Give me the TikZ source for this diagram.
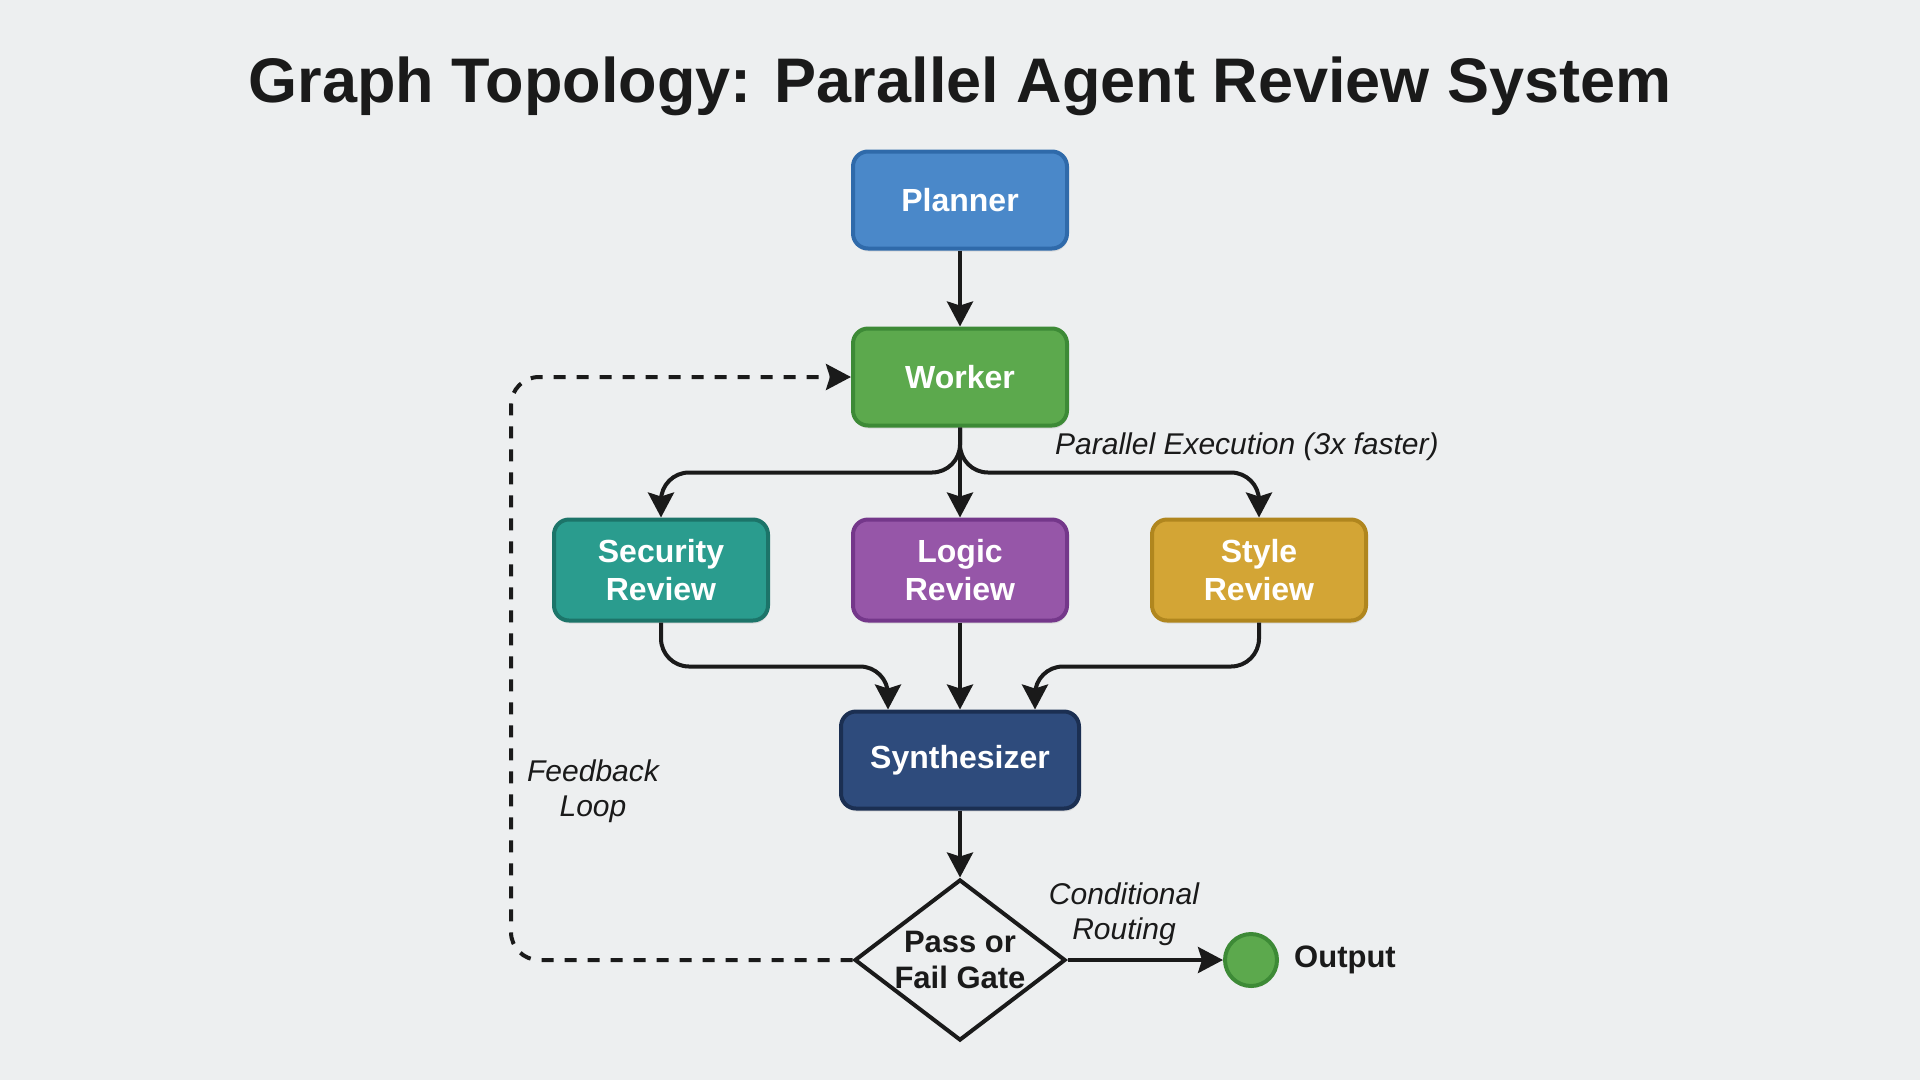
\documentclass[tikz,border=0pt]{standalone}
\usepackage{fontspec}
\setmainfont{Liberation Sans}
\usetikzlibrary{shapes.geometric,arrows.meta,calc,shadows}
\definecolor{bg}{RGB}{237,239,240}
\definecolor{ink}{RGB}{26,26,26}
\definecolor{plannerF}{RGB}{74,136,201}
\definecolor{plannerD}{RGB}{47,106,170}
\definecolor{workerF}{RGB}{92,169,77}
\definecolor{workerD}{RGB}{61,138,54}
\definecolor{secF}{RGB}{42,156,142}
\definecolor{secD}{RGB}{28,116,105}
\definecolor{logF}{RGB}{150,86,168}
\definecolor{logD}{RGB}{116,55,138}
\definecolor{styF}{RGB}{211,165,53}
\definecolor{styD}{RGB}{176,134,30}
\definecolor{synF}{RGB}{46,75,124}
\definecolor{synD}{RGB}{27,47,82}
\begin{document}
\begin{tikzpicture}[x=1pt,y=-1pt,
  box/.style={rounded corners=15pt, line width=4pt, minimum width=214pt, minimum height=97pt,
    text=white, font=\fontsize{32}{38}\selectfont\bfseries, align=center, inner sep=0pt,
    drop shadow={shadow xshift=1pt, shadow yshift=-3pt, opacity=0.18}},
  conn/.style={line width=4pt, draw=ink, -{Stealth[length=25pt,width=26pt,inset=4pt]}, rounded corners=28pt},
  fbconn/.style={conn, dash pattern=on 12pt off 11pt},
  lbl/.style={font=\fontsize{30}{35}\selectfont\itshape, text=ink, align=center, inner sep=0pt}]
\useasboundingbox (0,0) rectangle (1920,1080);
\fill[bg] (0,0) rectangle (1920,1080);

\node[anchor=base, font=\fontsize{63}{70}\selectfont\bfseries, text=ink, inner sep=0pt] (title) at (960,102) {Graph Topology: Parallel Agent Review System};

\node[box, fill=plannerF, draw=plannerD] (planner) at (960,200) {Planner};
\node[box, fill=workerF, draw=workerD] (worker) at (960,377) {Worker};
\node[box, fill=secF, draw=secD, minimum height=101pt] (sec) at (661,570) {Security\\Review};
\node[box, fill=logF, draw=logD, minimum height=101pt] (logic) at (960,570) {Logic\\Review};
\node[box, fill=styF, draw=styD, minimum height=101pt] (style) at (1259,570) {Style\\Review};
\node[box, fill=synF, draw=synD, minimum width=238pt] (synth) at (960,760) {Synthesizer};

\node[diamond, draw=ink, line width=4pt, fill=bg, minimum width=211pt, minimum height=161pt, inner sep=0pt] (gate) at (960,960) {};
\node[font=\fontsize{31}{36}\selectfont\bfseries, text=ink, align=center, inner sep=0pt] (gatetext) at (gate.center) {Pass or\\Fail Gate};

\node[circle, fill=workerF, draw=workerD, line width=4pt, minimum size=52pt, inner sep=0pt,
  drop shadow={shadow xshift=1pt, shadow yshift=-2pt, opacity=0.18}] (out) at (1251,960) {};
\node[anchor=west, font=\fontsize{31}{36}\selectfont\bfseries, text=ink, inner sep=0pt] (outlabel) at ($(out.east)+(15,0)$) {Output};

% connectors
\draw[conn] (planner.south) -- (worker.north);
\draw[conn] (worker.south) -- ++(0,45) -| (sec.north);
\draw[conn] (worker.south) -- (logic.north);
\draw[conn] (worker.south) -- ++(0,45) -| (style.north);
\draw[conn] (sec.south) |- ($(synth.north)+(-72,-43)$) -- ($(synth.north)+(-72,0)$);
\draw[conn] (logic.south) -- (synth.north);
\draw[conn] (style.south) |- ($(synth.north)+(75,-43)$) -- ($(synth.north)+(75,0)$);
\draw[conn] (synth.south) -- (gate.north);
\draw[conn] (gate.east) -- (out.west);
\coordinate (fbtop) at (511,377);
\draw[fbconn] (gate.west) -| (fbtop) -- (worker.west);

% labels
\node[lbl, anchor=west] (parlbl) at (1055,447) {Parallel Execution (3x faster)};
\node[lbl] (fblbl) at (593,791) {Feedback\\Loop};
\node[lbl] (condlbl) at (1124,914) {Conditional\\Routing};
\end{tikzpicture}
\end{document}
